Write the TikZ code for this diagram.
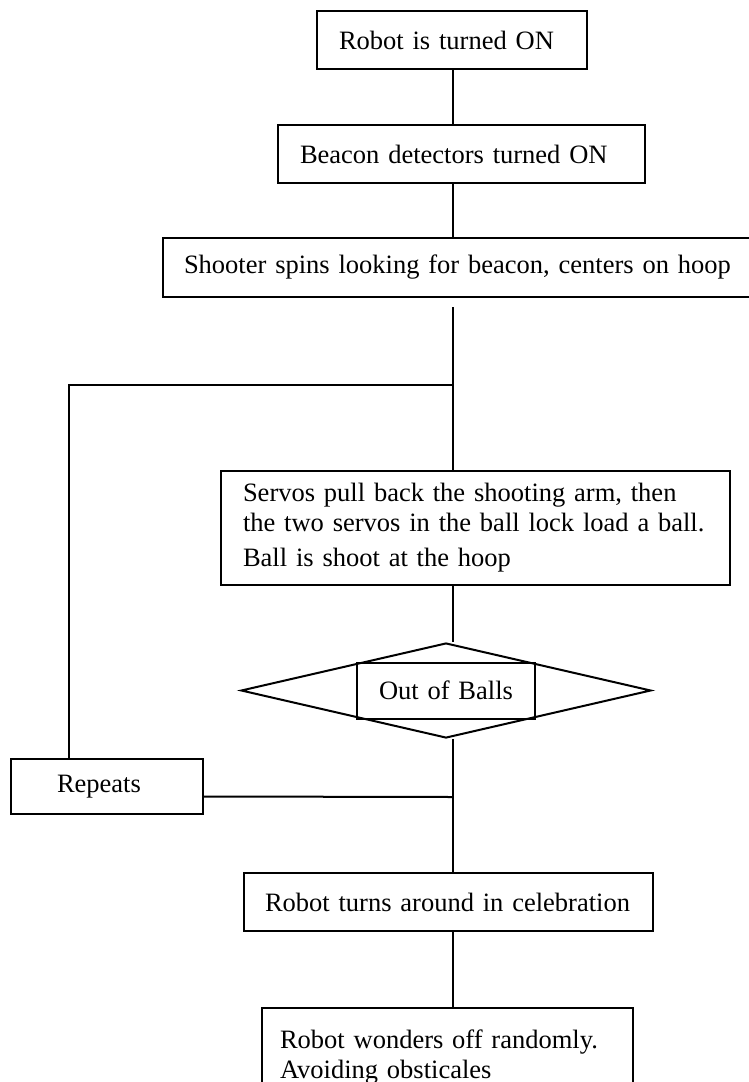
\documentclass[tikz,border=0pt]{standalone}
\usepackage{fontspec}
\setmainfont{Liberation Serif}
\usetikzlibrary{shapes.geometric}

\begin{document}
\begin{tikzpicture}[x=1pt, y=-1pt,
    stepbox/.style={draw, line width=2pt, align=left, inner xsep=22pt, inner ysep=0pt,
        font=\fontsize{26.5}{30}\selectfont},
    decide/.style={draw, diamond, line width=2pt, inner sep=0pt,
        minimum width=410pt, minimum height=95pt},
    link/.style={line width=2pt}]
    % Page size, everything outside is cut off
    \useasboundingbox (0,0) rectangle (749,1082);
    \clip (0,0) rectangle (749,1082);

    \def\spinex{453}

    % Main line and loop points
    \coordinate (spine) at (\spinex,0);
    \coordinate (drop) at (\spinex,307);
    \coordinate (join) at (\spinex,385);
    \coordinate (corner) at (69,385);
    \coordinate (merge) at (\spinex,797);

    % Steps
    \node[stepbox, text width=226pt, minimum height=58pt] (start) at (452,40) {Robot is turned ON};
    \node[stepbox, text width=323pt, minimum height=58pt] (detect) at (461.5,154) {Beacon detectors turned ON};
    \node[stepbox, inner xsep=21pt, text width=560pt, minimum height=59pt] (spin) at (464,267.5) {Shooter spins looking for beacon, centers on hoop};
    \node[stepbox, text width=465pt, minimum height=114pt] (shoot) at (475.5,528) {Servos pull back the shooting arm, then\\the two servos in the ball lock load a ball.\\[5pt]Ball is shoot at the hoop};

    % Decision
    \node[decide] (check) at (446,690.5) {};
    \node[stepbox, inner xsep=0pt, text width=178pt, align=center, minimum height=56pt] (balls) at (check) {Out of Balls};

    \node[stepbox, inner xsep=46pt, text width=100pt, minimum height=55pt] (again) at (107,786.5) {Repeats};
    \node[stepbox, inner xsep=21.5pt, text width=366.5pt, minimum height=58pt] (celebrate) at (448.25,902) {Robot turns around in celebration};
    \node[stepbox, inner xsep=18pt, inner ysep=21.5pt, text width=335pt, anchor=north] (wander) at (447.5,1007) {Robot wonders off randomly.\\Avoiding obsticales};

    % Draw the connectors
    \draw[link] (start.south -| spine) -- (detect.north -| spine);
    \draw[link] (detect.south -| spine) -- (spin.north -| spine);
    \draw[link] (drop) -- (shoot.north -| spine);
    \draw[link] (join) -- (corner) -- (corner |- again.north);
    \draw[link] (shoot.south -| spine) -- (check.north -| spine);
    \draw[link] (check.south -| spine) -- (celebrate.north -| spine);
    \draw[link] ([yshift=-10pt]again.east) -- (merge);
    \draw[link] (celebrate.south -| spine) -- (wander.north -| spine);
\end{tikzpicture}
\end{document}
